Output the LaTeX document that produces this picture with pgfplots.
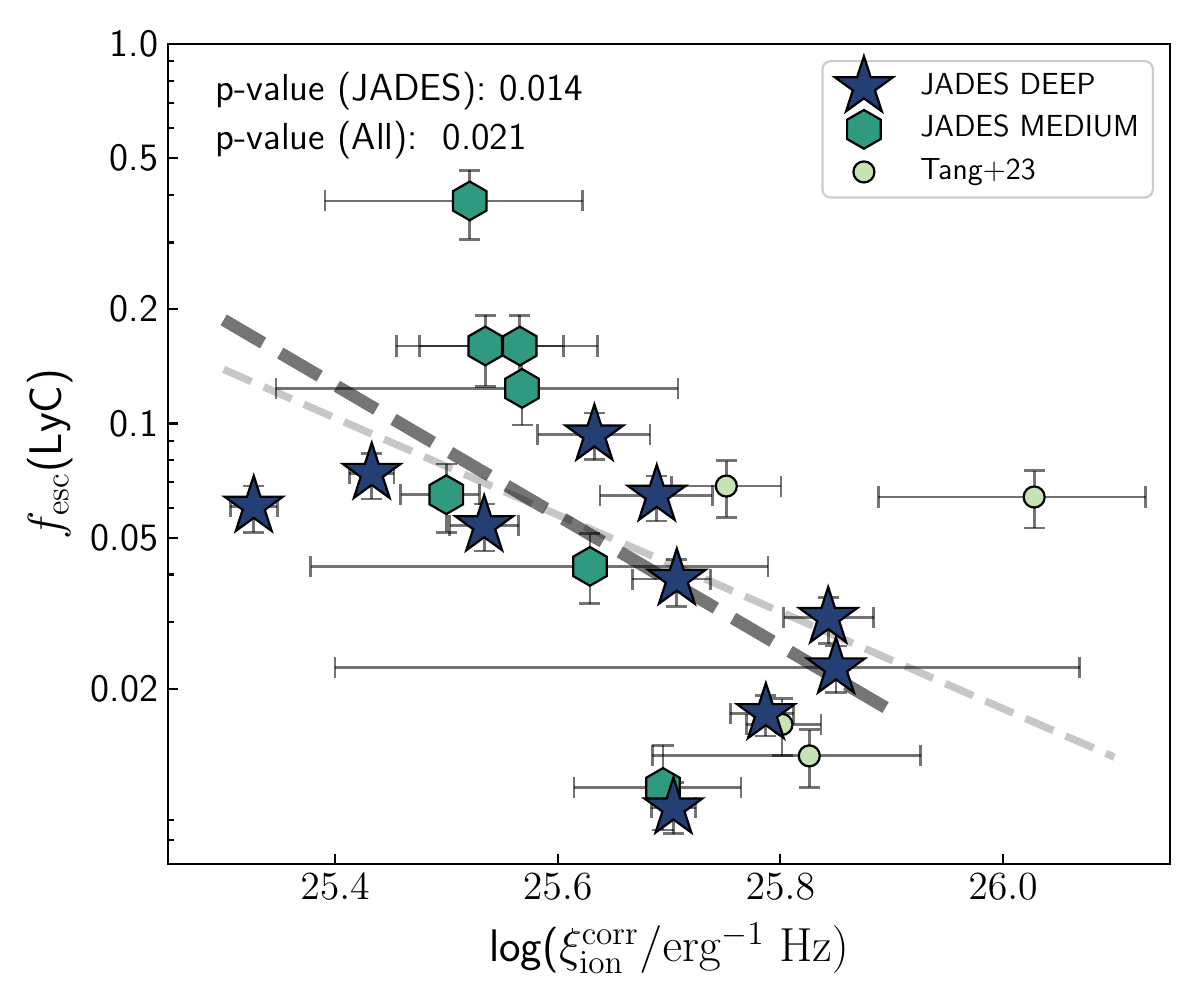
\documentclass[border=0pt]{standalone}
\usepackage{pgfplots}
\pgfplotsset{compat=1.18}
\usepackage{pgfplotstable}
\definecolor{deepc}{HTML}{233F74}
\definecolor{medc}{HTML}{2F9A80}
\definecolor{tangc}{HTML}{C6E3B4}

\pgfdeclareplotmark{fstar}{%
  \pgfpathmoveto{\pgfpointpolar{90}{\pgfplotmarksize}}%
  \pgfpathlineto{\pgfpointpolar{126}{0.381966\pgfplotmarksize}}%
  \pgfpathlineto{\pgfpointpolar{162}{\pgfplotmarksize}}%
  \pgfpathlineto{\pgfpointpolar{198}{0.381966\pgfplotmarksize}}%
  \pgfpathlineto{\pgfpointpolar{234}{\pgfplotmarksize}}%
  \pgfpathlineto{\pgfpointpolar{270}{0.381966\pgfplotmarksize}}%
  \pgfpathlineto{\pgfpointpolar{306}{\pgfplotmarksize}}%
  \pgfpathlineto{\pgfpointpolar{342}{0.381966\pgfplotmarksize}}%
  \pgfpathlineto{\pgfpointpolar{18}{\pgfplotmarksize}}%
  \pgfpathlineto{\pgfpointpolar{54}{0.381966\pgfplotmarksize}}%
  \pgfpathclose
  \pgfusepathqfillstroke
}
\pgfdeclareplotmark{hexag}{%
  \pgfpathmoveto{\pgfpointpolar{90}{\pgfplotmarksize}}%
  \pgfpathlineto{\pgfpointpolar{150}{\pgfplotmarksize}}%
  \pgfpathlineto{\pgfpointpolar{210}{\pgfplotmarksize}}%
  \pgfpathlineto{\pgfpointpolar{270}{\pgfplotmarksize}}%
  \pgfpathlineto{\pgfpointpolar{330}{\pgfplotmarksize}}%
  \pgfpathlineto{\pgfpointpolar{30}{\pgfplotmarksize}}%
  \pgfpathclose
  \pgfusepathqfillstroke
}

\pgfplotsset{
  mylegimg/.style={legend image code/.code={%
    \path[draw=none,fill=none] (0pt,-3pt) rectangle (20pt,3pt);
    \draw[overlay,##1,only marks,sharp corners] plot coordinates {(10pt,0pt)};}},
  ebars/.style={draw=none, mark=none, forget plot,
    error bars/.cd, x dir=both, x explicit, y dir=both, y explicit,
    error bar style={line width=1pt, draw=black, draw opacity=0.55},
    error mark options={rotate=90, mark size=3.8pt, line width=1pt, draw=black, draw opacity=0.55}},
}

% x y x-minus x-plus y-minus y-plus
\pgfplotstableread{
x y xm xp ym yp
25.327 0.0605 0.021 0.021 0.0089 0.0079
25.433 0.0739 0.020 0.020 0.0107 0.0096
25.534 0.0538 0.031 0.031 0.0077 0.0075
25.633 0.0933 0.051 0.050 0.0130 0.0132
25.689 0.0647 0.051 0.050 0.0094 0.0080
25.707 0.0389 0.040 0.030 0.0059 0.0048
25.843 0.0308 0.040 0.041 0.0045 0.0040
25.850 0.0227 0.450 0.219 0.0032 0.0032
25.787 0.0172 0.032 0.025 0.0022 0.0020
25.704 0.0097 0.020 0.020 0.0014 0.0016
}\tabdeep

\pgfplotstableread{
x y xm xp ym yp
25.521 0.386 0.130 0.1015 0.080 0.079
25.535 0.160 0.080 0.070 0.0346 0.0326
25.566 0.160 0.090 0.070 0.034 0.033
25.568 0.1237 0.221 0.140 0.0247 0.025
25.500 0.0649 0.041 0.0295 0.0133 0.0133
25.629 0.0420 0.251 0.160 0.0085 0.0092
25.6946 0.01098 0.080 0.070 0.0025 0.0032
}\tabmed

\pgfplotstableread{
x y xm xp ym yp
25.7515 0.0684 0.049 0.049 0.0118 0.0113
26.028 0.0640 0.140 0.100 0.0110 0.0111
25.8015 0.0161 0.032 0.035 0.0028 0.0027
25.826 0.0133 0.141 0.100 0.0023 0.0023
}\tabtang

\begin{document}
\begin{tikzpicture}
\useasboundingbox (0,0) rectangle (433.62pt,361.35pt);
\begin{axis}[
  at={(60.71pt,49.14pt)}, anchor=south west,
  scale only axis, width=362.07pt, height=296.3pt,
  xmin=25.25, xmax=26.15, ymode=log, ymin=0.0069, ymax=1.0,
  xtick={25.4,25.6,25.8,26.0}, xticklabels={$25.4$,$25.6$,$25.8$,$26.0$},
  ytick={0.02,0.05,0.1,0.2,0.5,1}, yticklabels={0.02,0.05,0.1,0.2,0.5,1.0},
  minor ytick={0.008,0.009,0.03,0.04,0.06,0.07,0.08,0.09,0.3,0.4,0.6,0.7,0.8,0.9},
  tick align=inside, xtick pos=left, ytick pos=left,
  major tick length=3.5pt, minor tick length=2pt,
  every tick/.style={black, line width=0.8pt},
  axis line style={line width=0.8pt},
  x tick label style={font=\fontsize{14}{16}\selectfont},
  y tick label style={font=\sffamily\fontsize{14}{16}\selectfont},
  xlabel={log($\xi^{\mathrm{corr}}_{\mathrm{ion}}/\mathrm{erg}^{-1}\ \mathrm{Hz})$},
  ylabel={$f_{\mathrm{esc}}$(LyC)},
  every axis x label/.style={at={(axis description cs:0.5,-0.119)}, anchor=base, font=\sffamily\fontsize{16.5}{19}\selectfont},
  every axis y label/.style={at={(axis description cs:-0.1065,0.5)}, rotate=90, anchor=base, font=\sffamily\fontsize{16.5}{19}\selectfont},
  legend style={at={(0.984,0.9805)}, anchor=north east, draw=black!20, line width=0.8pt,
    rounded corners=3pt, fill=white, font=\sffamily\fontsize{11}{13}\selectfont,
    inner xsep=5pt, inner ysep=4pt, row sep=4.9pt, column sep=10.4pt,
    nodes={inner sep=0pt, text height=8pt, text depth=2.5pt}},
  legend cell align=left,
  reverse legend,
]
% fit lines
\addplot[forget plot, black, opacity=0.22, line width=2.7pt, dash pattern=on 11pt off 4.8pt] coordinates {(25.3,0.1388) (26.1,0.0132)};
\addplot[forget plot, black, opacity=0.54, line width=4.5pt, dash pattern=on 16.5pt off 7.2pt] coordinates {(25.3,0.1875) (25.9,0.01745)};
% error bars
\addplot[ebars] table[x=x, y=y, x error minus=xm, x error plus=xp, y error minus=ym, y error plus=yp] {\tabtang};
\addplot[ebars] table[x=x, y=y, x error minus=xm, x error plus=xp, y error minus=ym, y error plus=yp] {\tabmed};
\addplot[ebars] table[x=x, y=y, x error minus=xm, x error plus=xp, y error minus=ym, y error plus=yp] {\tabdeep};
% markers
\addplot[only marks, mylegimg, mark=*, mark size=3.8pt, mark options={fill=tangc, draw=black, line width=0.8pt}] table[x=x, y=y] {\tabtang};
\addlegendentry{Tang+23}
\addplot[only marks, mylegimg, mark=hexag, mark size=7pt, mark options={fill=medc, draw=black, line width=0.8pt, line join=miter}] table[x=x, y=y] {\tabmed};
\addlegendentry{JADES MEDIUM}
\addplot[only marks, mylegimg, mark=fstar, mark size=11pt, mark options={fill=deepc, draw=black, line width=0.8pt, line join=miter}] table[x=x, y=y] {\tabdeep};
\addlegendentry{JADES DEEP}
\node[anchor=base west, inner sep=0pt, font=\sffamily\fontsize{13.6}{16}\selectfont] at (rel axis cs:0.047,0.9317) {p-value (JADES): 0.014};
\node[anchor=base west, inner sep=0pt, font=\sffamily\fontsize{13.6}{16}\selectfont] at (rel axis cs:0.047,0.8712) {p-value (All):\ \ 0.021};
\end{axis}
\end{tikzpicture}
\end{document}
